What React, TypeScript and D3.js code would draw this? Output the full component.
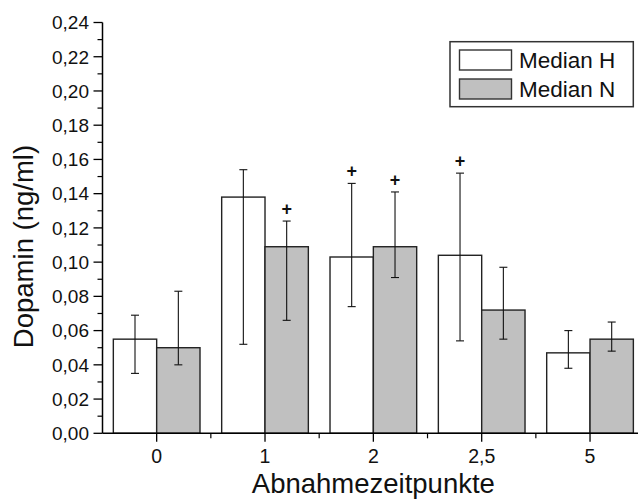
import * as d3 from "d3";

const categories = ["0", "1", "2", "2,5", "5"];
const seriesNames = ["Median H", "Median N"];
const medianH = [0.055, 0.138, 0.103, 0.104, 0.047];
const medianN = [0.05, 0.109, 0.109, 0.072, 0.055];
const errLowH = [0.035, 0.052, 0.074, 0.054, 0.038];
const errHighH = [0.069, 0.154, 0.146, 0.152, 0.06];
const errLowN = [0.04, 0.066, 0.091, 0.055, 0.048];
const errHighN = [0.083, 0.124, 0.141, 0.097, 0.065];
const plusH = [false, false, true, true, false];
const plusN = [false, true, true, false, false];
const yTicks = [0, 0.02, 0.04, 0.06, 0.08, 0.1, 0.12, 0.14, 0.16, 0.18, 0.2, 0.22, 0.24];

const W = 638;
const H = 499;
const FONT = "Arial, 'Liberation Sans', Helvetica, sans-serif";
const fills = ["#ffffff", "#c0c0c0"];

export default function App() {
  const margin = { left: 102.5, top: 22.5, bottom: 433.3 };
  const x = d3.scaleBand().domain(categories).range([margin.left, 644.2]).padding(0);
  const y = d3.scaleLinear().domain([0, 0.24]).range([margin.bottom, margin.top]);
  const bw = x.bandwidth();
  const inner = d3.scaleBand().domain(seriesNames).range([bw * 0.1, bw * 0.9]);

  const series = [
    { name: seriesNames[0], vals: medianH, lo: errLowH, hi: errHighH, plus: plusH, fill: fills[0] },
    { name: seriesNames[1], vals: medianN, lo: errLowN, hi: errHighN, plus: plusN, fill: fills[1] },
  ];

  // odd hundredths get the short minor ticks
  const minorY = d3.range(1, 24, 2).map((i) => i * 0.01);
  const fmt = (v: number) => v.toFixed(2).replace(".", ",");
  const xEnd = x.range()[1];

  return (
    <svg width={W} height={H} style={{ position: "absolute", left: 0, top: 0, background: "#fff" }} fontFamily={FONT}>
      {/* bars */}
      {series.map((s) =>
        s.vals.map((v, i) => {
          const bx = (x(categories[i]) ?? 0) + (inner(s.name) ?? 0);
          return (
            <rect
              key={s.name + i}
              x={bx}
              y={y(v)}
              width={inner.bandwidth()}
              height={y(0) - y(v)}
              fill={s.fill}
              stroke="#222"
              strokeWidth={1.4}
            />
          );
        })
      )}
      {/* error bars */}
      {series.map((s) =>
        s.vals.map((_, i) => {
          const cx = (x(categories[i]) ?? 0) + (inner(s.name) ?? 0) + inner.bandwidth() / 2;
          return (
            <g key={"e" + s.name + i} stroke="#111" strokeWidth={1.1}>
              <line x1={cx} x2={cx} y1={y(s.lo[i])} y2={y(s.hi[i])} />
              <line x1={cx - 4} x2={cx + 4} y1={y(s.lo[i])} y2={y(s.lo[i])} />
              <line x1={cx - 4} x2={cx + 4} y1={y(s.hi[i])} y2={y(s.hi[i])} />
              {s.plus[i] && (
                <text x={cx} y={y(s.hi[i]) - 6} textAnchor="middle" fontSize={18} fontWeight="bold" stroke="none" fill="#111">
                  +
                </text>
              )}
            </g>
          );
        })
      )}
      {/* y axis */}
      <line x1={margin.left} x2={margin.left} y1={y(0.24)} y2={y(0)} stroke="#000" strokeWidth={1.5} />
      {yTicks.map((t) => (
        <g key={"y" + t}>
          <line x1={margin.left - 9} x2={margin.left} y1={y(t)} y2={y(t)} stroke="#000" strokeWidth={1.3} />
          <text x={89} y={y(t) + 6.8} textAnchor="end" fontSize={19} fill="#111">
            {fmt(t)}
          </text>
        </g>
      ))}
      {minorY.map((t) => (
        <line key={"ym" + t} x1={margin.left - 5} x2={margin.left} y1={y(t)} y2={y(t)} stroke="#000" strokeWidth={1.2} />
      ))}
      {/* x axis */}
      <line x1={margin.left} x2={xEnd} y1={y(0)} y2={y(0)} stroke="#000" strokeWidth={1.5} />
      {categories.map((c) => {
        const cx = (x(c) ?? 0) + bw / 2;
        return (
          <g key={"x" + c}>
            <line x1={cx} x2={cx} y1={y(0)} y2={y(0) + 8.5} stroke="#000" strokeWidth={1.3} />
            <text x={cx} y={463} textAnchor="middle" fontSize={19.5} fill="#111">
              {c}
            </text>
          </g>
        );
      })}
      {categories.slice(1).map((c) => (
        <line key={"xm" + c} x1={x(c)} x2={x(c)} y1={y(0)} y2={y(0) + 5} stroke="#000" strokeWidth={1.2} />
      ))}
      {/* axis titles */}
      <text x={(margin.left + xEnd) / 2} y={493} textAnchor="middle" fontSize={27.5} fill="#111">
        Abnahmezeitpunkte
      </text>
      <text transform="translate(33,246.5) rotate(-90)" textAnchor="middle" fontSize={27.5} fill="#111">
        Dopamin (ng/ml)
      </text>
      {/* legend */}
      <rect x={450} y={41.7} width={183.3} height={65} fill="#fff" stroke="#333" strokeWidth={1.5} />
      {series.map((s, i) => (
        <g key={"l" + s.name}>
          <rect x={459.5} y={50 + i * 29} width={52} height={20} fill={s.fill} stroke="#333" strokeWidth={1.4} />
          <text x={519} y={68 + i * 29} fontSize={22.5} fill="#111">
            {s.name}
          </text>
        </g>
      ))}
    </svg>
  );
}
